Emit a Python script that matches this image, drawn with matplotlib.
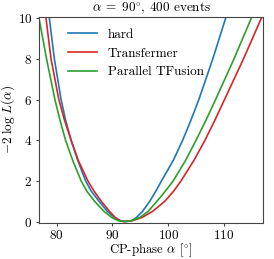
"""Likelihood scan of the CP-phase for three reconstruction methods."""
import matplotlib
matplotlib.use("Agg")
import matplotlib.pyplot as plt

# values: (alpha, -2 log L) along each curve
nll_levels = [10, 8, 6, 5, 4, 3, 2, 1.5, 1, 0.5, 0.2, 0.05, 0,
              0.05, 0.2, 0.5, 1, 1.5, 2, 3, 4, 5, 6, 8, 10]

hard_alpha = [78.7, 79.6, 80.8, 81.6, 82.6, 83.8, 85.2, 86.2, 87.6, 89.1, 90.4, 91.4, 92.5,
              93.5, 94.3, 95.4, 96.7, 97.8, 98.8, 100.9, 102.6, 104.1, 105.5, 108.0, 110.3]
hard_nll = nll_levels

transfermer_alpha = [78.1, 79.0, 80.4, 81.4, 82.6, 83.9, 85.6, 86.7, 88.0, 89.5, 90.5, 91.3, 92.0,
                     93.65, 95.3, 97.2, 99.4, 101.0, 102.3, 104.6, 106.6, 108.4, 110.1, 113.5, 116.7]
transfermer_nll = nll_levels

tfusion_alpha = [76.85, 78.2, 79.7, 80.6, 81.6, 82.9, 84.4, 85.4, 86.8, 88.5, 89.9, 91.0, 92.2,
                 93.5, 94.9, 96.4, 98.0, 99.5, 100.9, 103.1, 105.0, 106.8, 108.5, 111.8, 114.9]
tfusion_nll = nll_levels

plt.rcParams['font.family'] = 'cmr10'
plt.rcParams['mathtext.fontset'] = 'cm'
plt.rcParams['axes.formatter.use_mathtext'] = True
plt.rcParams['font.size'] = 9

fig = plt.figure(figsize=(2.74, 2.59), dpi=100)
ax = fig.add_axes([0.1434, 0.139, 0.8166, 0.7965])

ax.plot(hard_alpha, hard_nll, color='tab:blue', lw=1.2, label='hard')
ax.plot(transfermer_alpha, transfermer_nll, color='tab:red', lw=1.2, label='Transfermer')
ax.plot(tfusion_alpha, tfusion_nll, color='tab:green', lw=1.2, label='Parallel TFusion')

ax.set_xlim(76.9, 117.0)
ax.set_ylim(-0.07, 10.07)
ax.set_xticks([80, 90, 100, 110])
ax.set_yticks([0, 2, 4, 6, 8, 10])
ax.tick_params(length=2.5, pad=2.5, color='#444444', labelsize=9.5)
ax.tick_params(axis='x', pad=2)
ax.set_xlabel(r'CP-phase $\alpha$ [$^{\circ}$]', fontsize=9.2)
ax.set_ylabel(r'$-2\;\log\, L(\alpha)$', fontsize=9.5)
ax.xaxis.set_label_coords(0.5, -0.09)
ax.yaxis.set_label_coords(-0.098, 0.5)
ax.set_title(r'$\alpha\;=\;90^{\circ}$, 400 events', fontsize=9.5, pad=3)
ax.legend(loc='upper left', frameon=False, bbox_to_anchor=(0.075, 1.0),
          handlelength=2.2, fontsize=9.5, labelspacing=0.5)

for s in ax.spines.values():
    s.set_color('#444444')

fig.savefig('out.png', dpi=100)
